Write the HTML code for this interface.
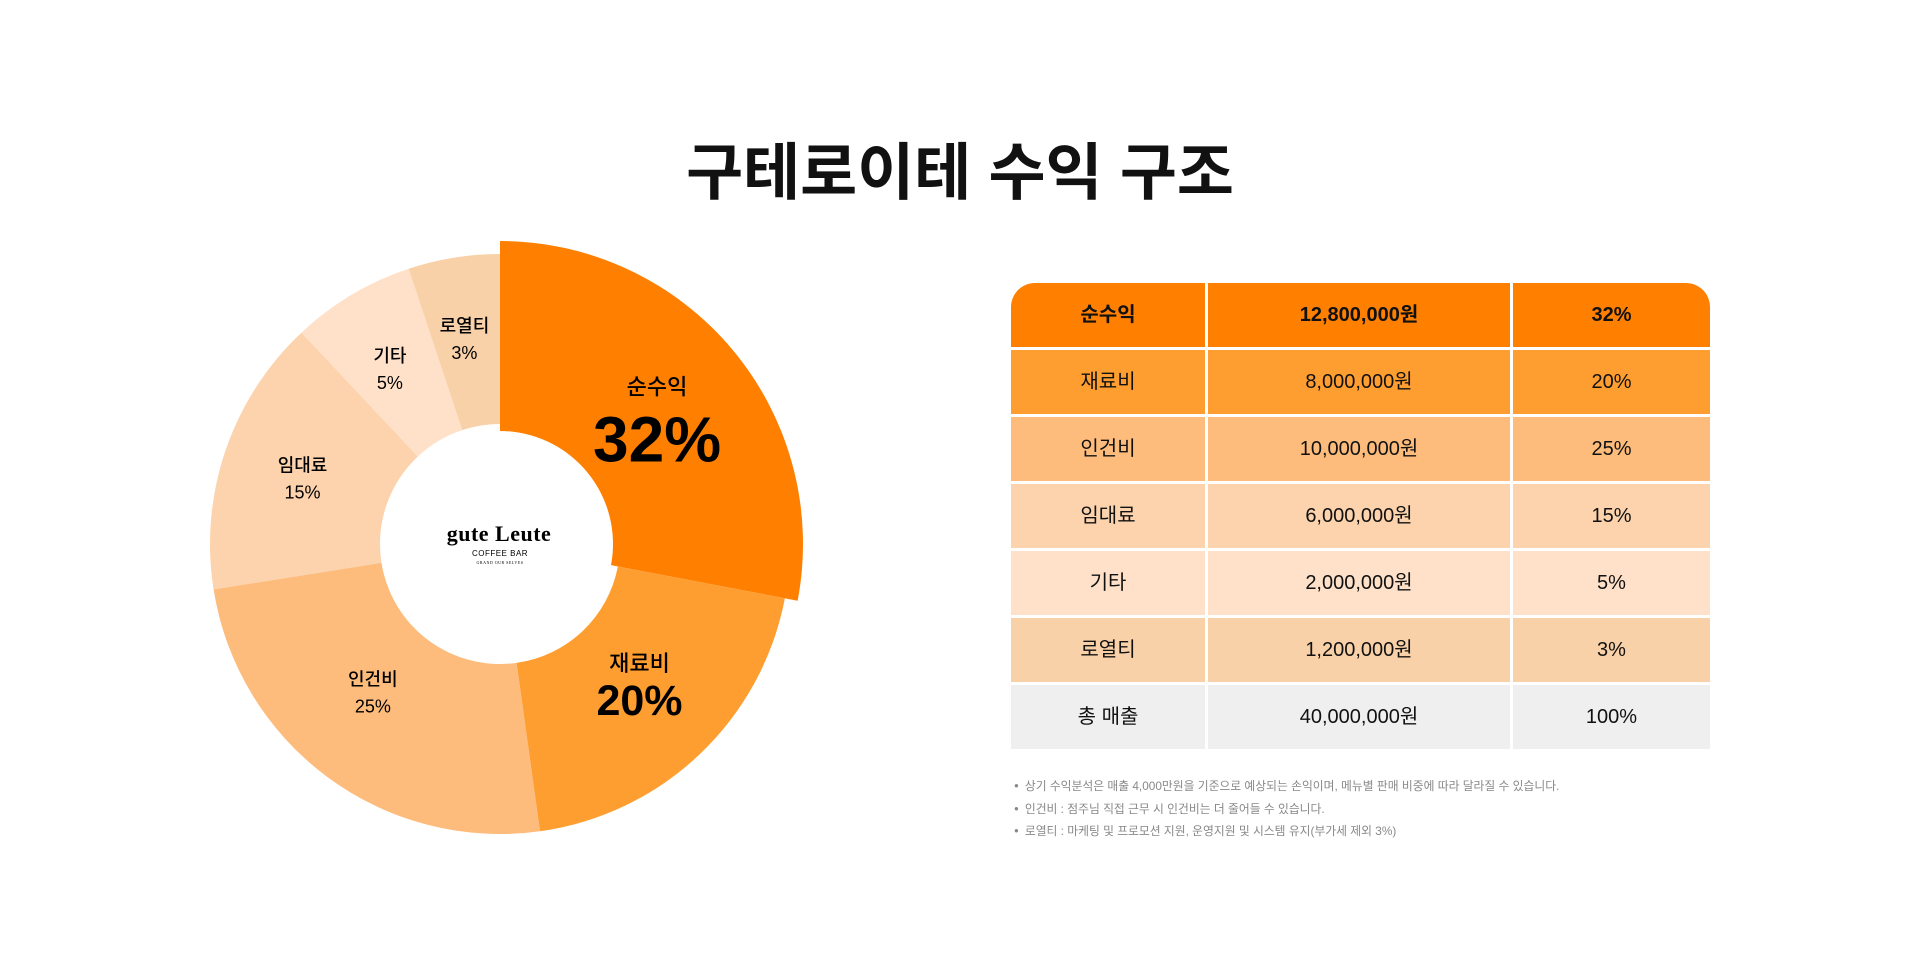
<!DOCTYPE html>
<html><head><meta charset="utf-8">
<style>
body{margin:0;width:1920px;height:958px;background:#fff;font-family:"Liberation Sans","Noto Sans CJK KR",sans-serif;position:relative;overflow:hidden;color:#111}
#title{position:absolute;left:0;width:1920px;top:122px;text-align:center;font-size:62px;font-weight:bold;letter-spacing:0px;margin:0}
#tbl{position:absolute;left:1011px;top:283px;border-collapse:separate;border-spacing:0}
#tbl td{height:64px;line-height:64px;vertical-align:middle;text-align:center;font-size:20px;border-right:3px solid #fff;border-bottom:3px solid #fff;padding:0}
#tbl td:last-child{border-right:none}
.notes{position:absolute;left:1014px;top:775px;font-size:11.8px;color:#888;line-height:21.5px}
.notes div:before{content:"●";font-size:8px;margin-right:6px;vertical-align:2px}
</style></head><body>
<h1 id="title">구테로이테 수익 구조</h1>
<svg id="pie" width="1920" height="958" style="position:absolute;left:0;top:0"></svg>
<table id="tbl"></table>
<div class="notes">
<div>상기 수익분석은 매출 4,000만원을 기준으로 예상되는 손익이며, 메뉴별 판매 비중에 따라 달라질 수 있습니다.</div>
<div>인건비 : 점주님 직접 근무 시 인건비는 더 줄어들 수 있습니다.</div>
<div>로열티 : 마케팅 및 프로모션 지원, 운영지원 및 시스템 유지(부가세 제외 3%)</div>
</div>
<script>
const categories=["순수익","재료비","인건비","임대료","기타","로열티"];
const percents=[32,20,25,15,5,3];
// slice shares as drawn in the picture (angular size of each wedge)
const sliceShares=[28,19.8,24.7,15.5,6.9,5.1];
const amounts=["12,800,000원","8,000,000원","10,000,000원","6,000,000원","2,000,000원","1,200,000원"];
const colors=["#FF7F00","#FF9E30","#FDBC7C","#FCD3AC","#FEE1C8","#F9D1A8"];
const totalLabel="총 매출", totalAmount="40,000,000원", totalPct="100%";

const NS="http://www.w3.org/2000/svg";
const svg=document.getElementById('pie');
const cx=500,cy=544,R=290,r=120;
const labelR=[222,185,185,214,219,223];
const labelDX=[-14,12,-17,5,2,0];
const labelDY=[-12,-13,-2,2,11,13];
const total=sliceShares.reduce((a,b)=>a+b,0);
function pt(rad,a){return [cx+rad*Math.sin(a),cy-rad*Math.cos(a)];}
let acc=0;
sliceShares.forEach((v,i)=>{
  const a0=acc/total*2*Math.PI; acc+=v; const a1=acc/total*2*Math.PI;
  const ro=i===0?303:R, ri=i===0?113:r;
  const [x0,y0]=pt(ro,a0),[x1,y1]=pt(ro,a1),[x2,y2]=pt(ri,a1),[x3,y3]=pt(ri,a0);
  const lg=(a1-a0)>Math.PI?1:0;
  const p=document.createElementNS(NS,'path');
  p.setAttribute('d',`M${x0},${y0}A${ro},${ro} 0 ${lg} 1 ${x1},${y1}L${x2},${y2}A${ri},${ri} 0 ${lg} 0 ${x3},${y3}Z`);
  p.setAttribute('fill',colors[i]);
  
  
  svg.appendChild(p);
  const am=(a0+a1)/2, big=i<2;
  let [lx,ly]=pt(labelR[i],am);
  lx+=labelDX[i]; ly+=labelDY[i];
  const t1=document.createElementNS(NS,'text');
  t1.setAttribute('x',lx);t1.setAttribute('y',ly-(i===0?-4:(i===1?-6:5)));
  t1.setAttribute('text-anchor','middle');t1.setAttribute('font-size',big?22:18);
  t1.setAttribute('font-weight','500');t1.textContent=categories[i];
  
  
  svg.appendChild(t1);
  const t2=document.createElementNS(NS,'text');
  t2.setAttribute('x',lx);t2.setAttribute('y',ly+(i===0?71:(i===1?50:22)));
  t2.setAttribute('text-anchor','middle');t2.setAttribute('font-size',i===0?64:(i===1?43:18));
  t2.setAttribute('font-weight',big?'bold':'500');t2.textContent=percents[i]+'%';
  
  
  svg.appendChild(t2);
});
const logo=[["gute Leute",499,541,22,"Liberation Serif","bold"],["COFFEE BAR",500,556,8,"Liberation Sans","normal"],["GRAND OUR SELVES",500,564,4,"Liberation Serif","normal"]];
logo.forEach(l=>{const t=document.createElementNS(NS,'text');
 t.setAttribute('x',l[1]);t.setAttribute('y',l[2]);t.setAttribute('text-anchor','middle');
 t.setAttribute('font-size',l[3]);t.setAttribute('font-family',l[4]);t.setAttribute('font-weight',l[5]);
 t.setAttribute('letter-spacing','0.5');t.textContent=l[0];
 
 
 svg.appendChild(t);});

const tbl=document.getElementById('tbl');
const widths=[194,302,197];
function addRow(cells,bg,bold,idx,last){
  const tr=document.createElement('tr');
  
  
  cells.forEach((c,j)=>{const td=document.createElement('td');
    td.textContent=c;td.style.background=bg;td.style.width=widths[j]+'px';
    if(bold)td.style.fontWeight='bold';
    if(idx===0&&j===0)td.style.borderTopLeftRadius='24px';
    if(idx===0&&j===2)td.style.borderTopRightRadius='24px';
    if(last)td.style.borderBottom='none';
    
    
    tr.appendChild(td);});
  tbl.appendChild(tr);
}
categories.forEach((c,i)=>addRow([c,amounts[i],percents[i]+'%'],colors[i],i===0,i,false));
addRow([totalLabel,totalAmount,totalPct],"#EFEFEF",false,6,true);
</script>
</body></html>
